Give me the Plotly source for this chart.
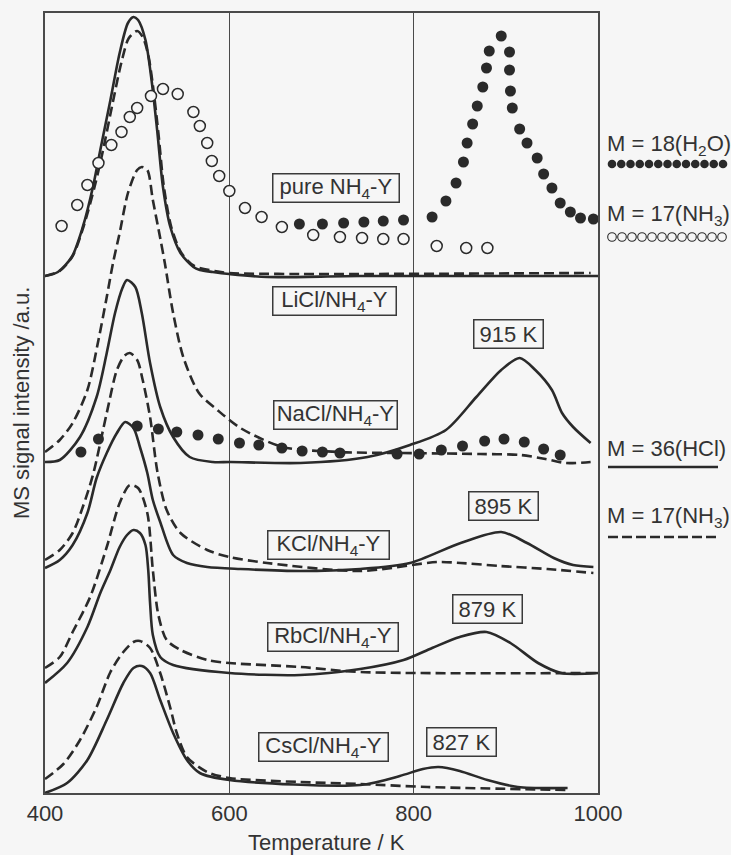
import plotly.graph_objects as go

W, H = 731, 855
INK = "#2a2a2a"
TXT = "#333333"
BG = "#f6f6f6"
FONT = "Liberation Sans, Arial, Helvetica, sans-serif"
FS = 22

# ---------------------------------------------------------------------------
# TPD-MS traces: temperature (K) and stacked signal intensity (a.u.).
# Each sample is shifted vertically; "hcl" = M/z 36 (solid), "nh3" = M/z 17 (dashed)
# ---------------------------------------------------------------------------

# pure NH4-Y
pure_hcl_T = [400, 414, 429, 441, 452, 460, 471, 481, 490, 496, 501, 509, 516, 522, 528, 536, 547, 561, 568, 582, 600, 641, 742, 1000]
pure_hcl_I = [517, 521, 536, 566, 606, 643, 693, 740, 770, 776, 773, 753, 710, 660, 606, 566, 540, 526, 523, 521, 519, 516, 517, 517]
pure_nh3_T = [400, 416, 430, 442, 454, 463, 473, 483, 491, 500, 506, 512, 517, 523, 529, 537, 548, 562, 584, 600, 677, 992]
pure_nh3_I = [517, 522, 537, 567, 607, 643, 688, 731, 755, 762, 756, 738, 708, 660, 606, 566, 540, 527, 522, 520, 519, 520]

# pure NH4-Y, M = 18 (H2O) points
pure_h2o_T = [676, 701, 724, 746, 767, 789, 820, 835, 846, 854, 858, 864, 869, 875, 879, 882, 895,
              904, 904, 905, 907, 915, 923, 934, 941, 950, 959, 970, 981, 995]
pure_h2o_I = [569, 569, 570, 571, 572, 573, 576, 592, 610, 631, 650, 669, 687, 706, 725, 742, 757,
              741, 723, 702, 685, 664, 650, 635, 619, 605, 590, 581, 575, 574]

# pure NH4-Y, M = 17 (NH3) points
pure_nh3pts_T = [418, 435, 446, 458, 472, 483, 492, 500, 515, 528, 544, 561, 568, 576, 581, 589, 600,
                 617, 635, 657, 691, 720, 744, 767, 789, 825, 857, 880]
pure_nh3pts_I = [567, 588, 608, 630, 648, 661, 676, 685, 697, 704, 699, 681, 667, 650, 632, 617, 602,
                 585, 576, 566, 558, 556, 555, 554, 554, 547, 545, 545]

# high-temperature HCl maxima (K)
PEAK_NA, PEAK_K, PEAK_RB, PEAK_CS = 915, 895, 879, 827

# LiCl / NaCl-exchanged sample
na_hcl_T = [400, 416, 438, 456, 467, 476, 484, 489, 498, 505, 514, 525, 539, 557, 582, 601, 677, 750,
            796, 835, 868, 895, PEAK_NA, 932, 950, 961, 973, 992]
na_hcl_I = [331, 333, 356, 396, 440, 480, 505, 513, 506, 480, 430, 386, 356, 336, 331, 331, 330, 336,
            348, 363, 396, 423, 435, 423, 403, 380, 366, 350]
na_nh3_T = [400, 416, 430, 446, 458, 467, 474, 481, 490, 500, 505, 511, 517, 525, 530, 539, 550, 567,
            587, 612, 658, 720, 786, 872, 916, 943, 965, 992]
na_nh3_I = [341, 353, 370, 403, 453, 496, 531, 560, 600, 623, 626, 623, 593, 555, 530, 480, 436, 400,
            383, 365, 346, 341, 340, 339, 338, 334, 330, 331]
na_h2o_T = [439, 458, 500, 523, 543, 566, 588, 611, 632, 657, 679, 701, 720, 782, 806, 830, 853, 877,
            898, 920, 941, 959]
na_h2o_I = [341, 354, 367, 364, 361, 358, 354, 350, 348, 345, 342, 341, 340, 339, 339, 343, 347, 352,
            354, 351, 344, 338]

# KCl-exchanged sample
k_hcl_T = [400, 416, 430, 446, 456, 467, 478, 487, 496, 503, 511, 517, 525, 539, 554, 576, 612, 677,
           742, 796, 851, PEAK_K, 923, 952, 973, 995]
k_hcl_I = [225, 233, 248, 280, 315, 340, 360, 371, 365, 346, 320, 293, 271, 238, 230, 226, 224, 222,
           224, 230, 250, 261, 250, 235, 228, 226]
k_nh3_T = [400, 416, 430, 441, 452, 467, 478, 486, 492, 500, 506, 514, 522, 532, 547, 576, 600, 641,
           742, 826, 851, 894, 945, 995]
k_nh3_I = [233, 243, 260, 286, 318, 380, 423, 437, 440, 433, 413, 376, 321, 283, 260, 243, 236, 230,
           222, 231, 230, 227, 224, 220]

# RbCl-exchanged sample
rb_hcl_T = [400, 424, 446, 460, 471, 481, 489, 496, 503, 509, 512, 514, 517, 525, 539, 600, 677, 742,
            789, 820, 850, PEAK_RB, 905, 935, 960, 1000]
rb_hcl_I = [110, 130, 166, 200, 223, 246, 258, 263, 260, 248, 223, 190, 158, 136, 128, 120, 118, 124,
            133, 145, 156, 161, 150, 130, 120, 120]
rb_nh3_T = [400, 416, 430, 449, 467, 481, 492, 501, 511, 517, 523, 532, 547, 576, 600, 677, 742, 1000]
rb_nh3_I = [125, 136, 161, 196, 246, 290, 308, 305, 280, 223, 178, 153, 143, 133, 130, 126, 121, 120]

# CsCl-exchanged sample
cs_hcl_T = [400, 424, 446, 467, 485, 496, 505, 514, 525, 539, 554, 568, 600, 742, 785, 810, PEAK_CS,
            850, 880, 913, 967]
cs_hcl_I = [0, 10, 33, 73, 110, 125, 127, 120, 93, 60, 33, 20, 13, 8, 17, 24, 26, 22, 13, 6, 5]
cs_nh3_T = [400, 420, 438, 456, 471, 485, 496, 503, 514, 525, 536, 543, 554, 576, 600, 677, 742, 815, 970]
cs_nh3_I = [14, 29, 53, 86, 121, 141, 151, 152, 145, 120, 85, 60, 36, 21, 15, 11, 9, 6, 3]

# sample captions: (text, left edge T, centre intensity, box width px)
SAMPLE_LABELS = [
    ("pure NH<sub>4</sub>-Y", 646, 605, 131),
    ("LiCl/NH<sub>4</sub>-Y", 646, 492, 128),
    ("NaCl/NH<sub>4</sub>-Y", 647, 378, 128),
    ("KCl/NH<sub>4</sub>-Y", 641, 248, 126),
    ("RbCl/NH<sub>4</sub>-Y", 641, 156, 135),
    ("CsCl/NH<sub>4</sub>-Y", 631, 46, 134),
]
# peak captions: (temperature, caption centre T, centre intensity)
PEAK_LABELS = [(PEAK_NA, 903, 459), (PEAK_K, 897, 287), (PEAK_RB, 880, 184), (PEAK_CS, 852, 51)]

X_TICKS = [400, 600, 800, 1000]

# plot frame in pixels
L, R, T0, B0 = 45, 598, 13, 793

fig = go.Figure()

line_solid = dict(color=INK, width=2.6, shape="spline", smoothing=0.8)
line_dash = dict(color=INK, width=2.6, shape="spline", smoothing=0.8, dash="10px,5px")

for tx, iy in [(pure_hcl_T, pure_hcl_I), (na_hcl_T, na_hcl_I), (k_hcl_T, k_hcl_I),
               (rb_hcl_T, rb_hcl_I), (cs_hcl_T, cs_hcl_I)]:
    fig.add_trace(go.Scatter(x=tx, y=iy, mode="lines", line=line_solid, showlegend=False,
                             name="M = 36 (HCl)"))
for tx, iy in [(pure_nh3_T, pure_nh3_I), (na_nh3_T, na_nh3_I), (k_nh3_T, k_nh3_I),
               (rb_nh3_T, rb_nh3_I), (cs_nh3_T, cs_nh3_I)]:
    fig.add_trace(go.Scatter(x=tx, y=iy, mode="lines", line=line_dash, showlegend=False,
                             name="M = 17 (NH3)"))

fig.add_trace(go.Scatter(x=pure_nh3pts_T, y=pure_nh3pts_I, mode="markers", showlegend=False,
                         marker=dict(size=11, color=BG, line=dict(color=INK, width=1.5)),
                         name="M = 17 (NH3)", cliponaxis=False))
for tx, iy in [(pure_h2o_T, pure_h2o_I), (na_h2o_T, na_h2o_I)]:
    fig.add_trace(go.Scatter(x=tx, y=iy, mode="markers", showlegend=False,
                             marker=dict(size=11, color=INK), name="M = 18 (H2O)",
                             cliponaxis=False))

annotations = []
for text, tl, yc, wpx in SAMPLE_LABELS:
    annotations.append(dict(x=tl, y=yc, xref="x", yref="y", text=text, showarrow=False,
                            xanchor="left", yanchor="middle", width=wpx - 10, height=23,
                            borderpad=2, bordercolor="#3a3a3a", borderwidth=1.5, bgcolor=BG,
                            font=dict(family=FONT, size=FS, color=TXT)))
for temp, tc, yc in PEAK_LABELS:
    annotations.append(dict(x=tc, y=yc, xref="x", yref="y", text=f"{temp} K", showarrow=False,
                            xanchor="center", yanchor="middle", width=64, height=23,
                            borderpad=2, bordercolor="#3a3a3a", borderwidth=1.5, bgcolor=BG,
                            font=dict(family=FONT, size=FS, color=TXT)))

def px(x):
    return x / W

def py(y):
    return 1 - y / H

# axis titles
annotations.append(dict(x=px(326), y=py(842), xref="paper", yref="paper", showarrow=False,
                        xanchor="center", yanchor="middle",
                        text="Temperature / K", font=dict(family=FONT, size=FS, color=TXT)))
annotations.append(dict(x=px(21), y=py(403), xref="paper", yref="paper", showarrow=False,
                        xanchor="center", yanchor="middle",
                        text="MS signal intensity /a.u.", textangle=-90,
                        font=dict(family=FONT, size=FS, color=TXT)))

# key entries
for text, ty in [("M = 18(H<sub>2</sub>O)", 145), ("M = 17(NH<sub>3</sub>)", 215),
                 ("M = 36(HCl)", 448), ("M = 17(NH<sub>3</sub>)", 517)]:
    annotations.append(dict(x=px(605), y=py(ty), xref="paper", yref="paper", showarrow=False,
                            xanchor="left", yanchor="middle", text=text,
                            font=dict(family=FONT, size=FS, color=TXT)))

shapes = []
for i in range(13):
    cx = px(612 + i * 9.25)
    shapes.append(dict(type="circle", xref="paper", yref="paper", xsizemode="pixel",
                       ysizemode="pixel", xanchor=cx, yanchor=py(164), x0=-4.3, x1=4.3,
                       y0=-4.3, y1=4.3, fillcolor=INK, line=dict(width=0)))
for i in range(12):
    cx = px(612 + i * 10)
    shapes.append(dict(type="circle", xref="paper", yref="paper", xsizemode="pixel",
                       ysizemode="pixel", xanchor=cx, yanchor=py(237), x0=-4.3, x1=4.3,
                       y0=-4.3, y1=4.3, fillcolor=BG, line=dict(width=1.1, color=INK)))
shapes.append(dict(type="line", xref="paper", yref="paper", x0=px(608), x1=px(718),
                   y0=py(467), y1=py(467), line=dict(color=INK, width=2.6)))
shapes.append(dict(type="line", xref="paper", yref="paper", x0=px(608), x1=px(718),
                   y0=py(537), y1=py(537), line=dict(color=INK, width=2.6, dash="10px,4px")))

fig.update_layout(
    width=W, height=H, autosize=False,
    margin=dict(l=0, r=0, t=0, b=0, pad=0, autoexpand=False),
    paper_bgcolor=BG, plot_bgcolor=BG,
    showlegend=False,
    annotations=annotations,
    shapes=shapes,
    xaxis=dict(domain=[px(L), px(R)], range=[400, 1000], tickvals=X_TICKS,
               ticktext=[str(v) for v in X_TICKS], ticks="", showgrid=True,
               gridcolor="#4a4a4a", gridwidth=1.2, zeroline=False, automargin=False,
               showline=True, linecolor="#4a4a4a", linewidth=1.5, mirror=True,
               tickfont=dict(family=FONT, size=FS, color=TXT), ticklabelstandoff=0),
    yaxis=dict(domain=[py(B0), py(T0)], range=[0, 780], showticklabels=False, ticks="",
               showgrid=False, zeroline=False, showline=True, linecolor="#4a4a4a",
               linewidth=1.5, mirror=True, automargin=False),
)

fig.write_html("out.html")
